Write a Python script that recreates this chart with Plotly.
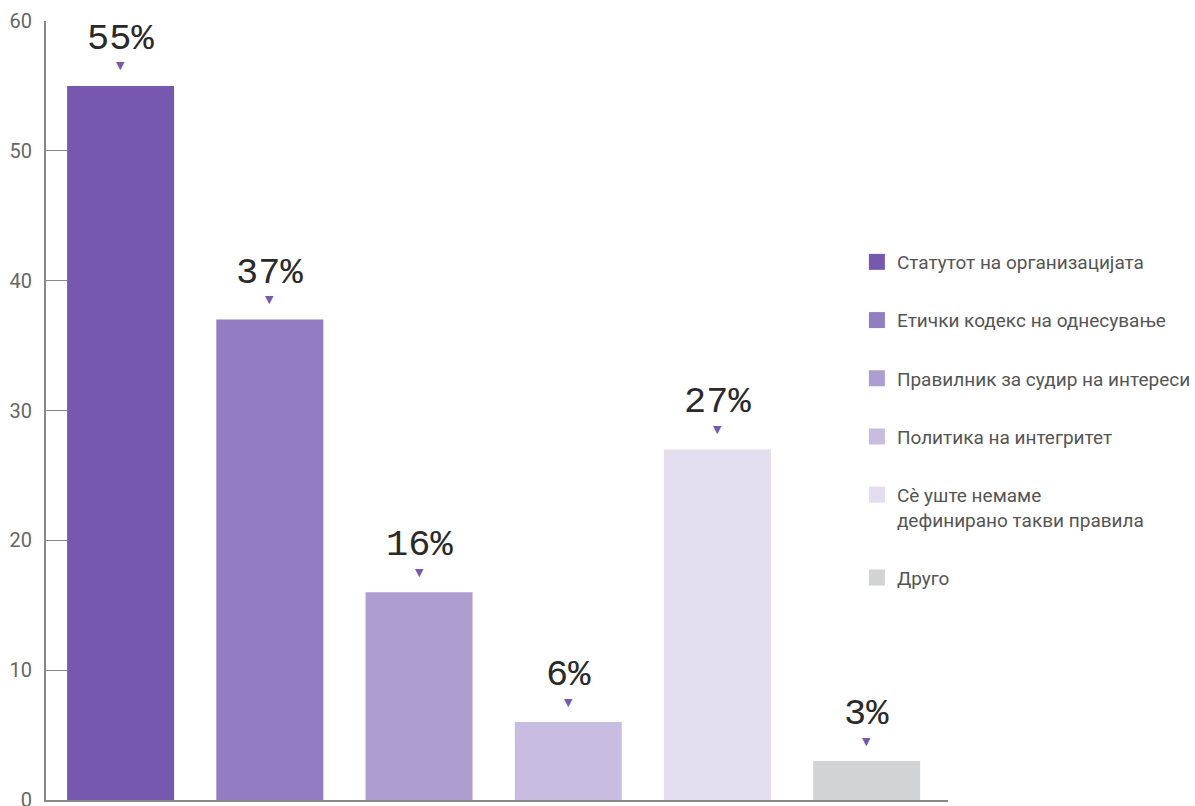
import plotly.graph_objects as go

categories = ["Статутот на организацијата", "Етички кодекс на однесување",
              "Правилник за судир на интереси", "Политика на интегритет",
              "Сѐ уште немаме<br>дефинирано такви правила", "Друго"]
values = [55, 37, 16, 6, 27, 3]
labels = ["55%", "37%", "16%", "6%", "27%", "3%"]
colors = ["#7659AE", "#927CC2", "#AE9DD0", "#C8BCE0", "#E3DDEF", "#D2D3D5"]
y_ticks = [0, 10, 20, 30, 40, 50, 60]

FONT = "Roboto"

fig = go.Figure()
x_pos = list(range(len(categories)))

fig.add_trace(go.Bar(x=x_pos, y=values, marker=dict(color=colors, line=dict(width=0)),
                     width=0.717, showlegend=False, hoverinfo="skip"))

for i, (name, col) in enumerate(zip(categories, colors)):
    fig.add_trace(go.Scatter(x=[None], y=[None], mode="markers", name=name,
                             legendgroup=f"g{i}",
                             marker=dict(symbol="square", size=16, color=col)))

annotations = []
for x, v, lab in zip(x_pos, values, labels):
    annotations.append(dict(x=x, y=v, text=lab, showarrow=False, yanchor="middle",
                            yshift=47, font=dict(family="Liberation Mono", size=37, color="#2a2a2a")))
    annotations.append(dict(x=x, y=v, text="▼", showarrow=False, yanchor="middle",
                            yshift=20, font=dict(family="DejaVu Sans", size=11, color="#7659AE")))

fig.update_layout(
    width=1195, height=806,
    margin=dict(l=46, r=247, t=21, b=6, autoexpand=False),
    plot_bgcolor="white", paper_bgcolor="white",
    font=dict(family=FONT, color="#555"),
    annotations=annotations,
    legend=dict(x=0.899, y=0.715, xanchor="left", yanchor="top",
                font=dict(family=FONT, size=19, color="#555"),
                tracegroupgap=30.5, valign="top", itemsizing="trace"),
    xaxis=dict(range=[-0.5, 5.545], showticklabels=False, ticks="", showgrid=False,
               zeroline=False, showline=True, linecolor="#888", linewidth=2, automargin=False),
    yaxis=dict(range=[0, 60], tickvals=y_ticks, ticks="inside", ticklen=21, tickcolor="#888",
               tickwidth=1, showgrid=False, zeroline=False, showline=True, linecolor="#888",
               linewidth=2, tickfont=dict(family=FONT, size=20, color="#666"),
               ticklabelstandoff=8, ticklabeloverflow="allow", automargin=False),
)

fig.write_html("out.html")
